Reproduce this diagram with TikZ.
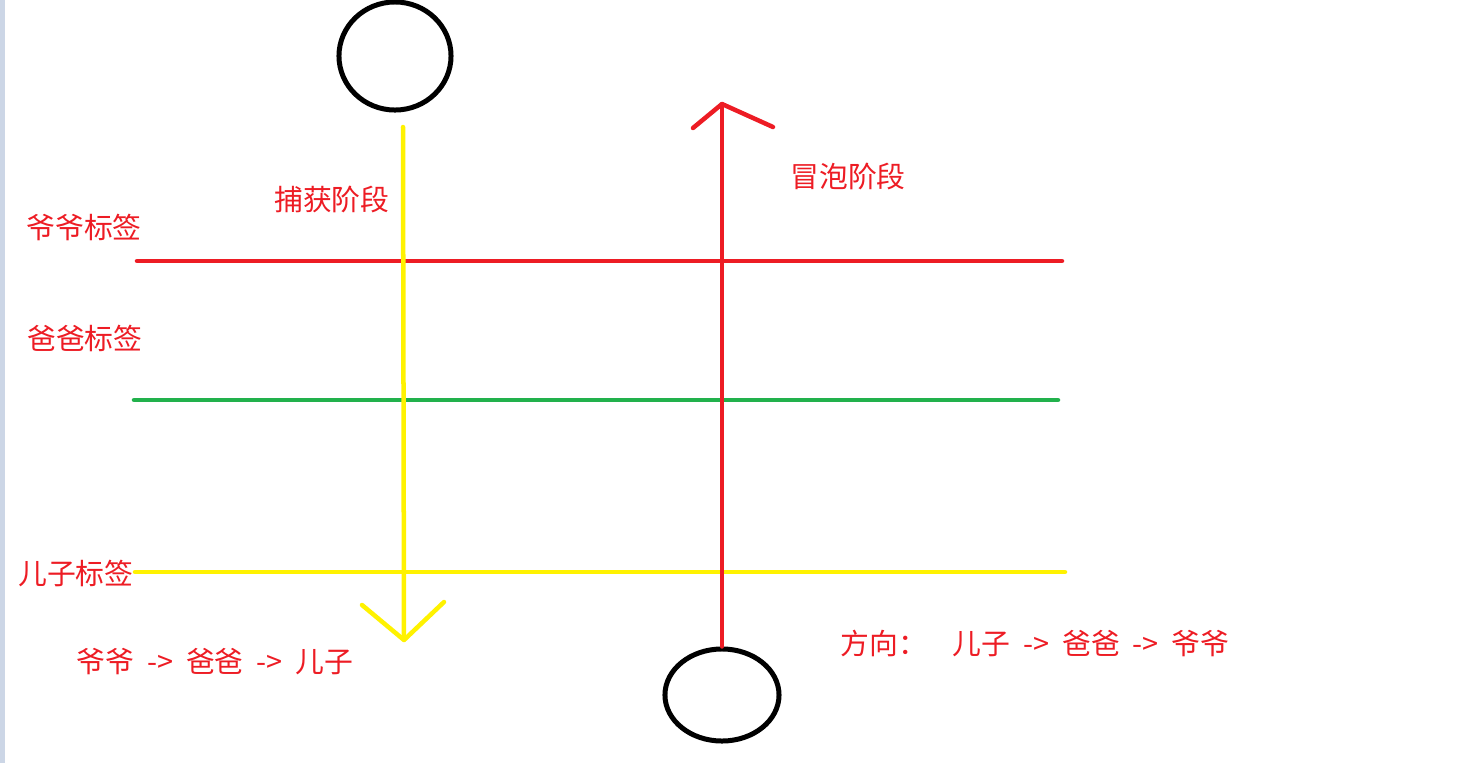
\documentclass[tikz,border=0pt]{standalone}
\usepackage{fontspec}
\newfontfamily\cjk[WordSpace=2]{Noto Sans CJK SC}
\usepackage{tikz}
\usetikzlibrary{shapes,positioning}
\definecolor{paintred}{HTML}{ED1C24}
\definecolor{paintgreen}{HTML}{22B14C}
\definecolor{paintyellow}{HTML}{FFF200}
\definecolor{edgestrip}{HTML}{CCD6E6}
\begin{document}
\begin{tikzpicture}[x=0.01cm, y=-0.01cm]
        % Define styles
        \tikzstyle{label} = [text=paintred, font=\cjk\fontsize{8.2}{10}\selectfont, inner sep=0pt]
        \tikzstyle{ball} = [ellipse, draw=black, line width=0.05cm, inner sep=0pt]
        \tikzstyle{level} = [line width=0.045cm, line cap=round]
        \tikzstyle{flow} = [line width=0.045cm, line cap=round, line join=round]

        \useasboundingbox (0,0) rectangle (1459,763);
        \fill [edgestrip] (0,0) rectangle (5,763);

        % Elements
        \node [ball, minimum width=1.12cm, minimum height=1.08cm] (top) at (395,56) {};
        \node [ball, minimum width=1.14cm, minimum height=0.92cm] (bottom) at (722,695) {};

        % Tag levels
        \draw [level, paintred] (137,261) -- (1062,261);
        \draw [level, paintgreen] (134,400) -- (1058,400);
        \draw [level, paintyellow] (135,572) -- (1065,572);

        % Capture phase
        \coordinate (capstart) at (403,127);
        \coordinate (capend) at (404,640);
        \draw [flow, paintyellow] (capstart) -- (capend);
        \draw [flow, paintyellow] (362,605) -- (capend) -- (444,602);

        % Bubble phase
        \coordinate (bubend) at (722,104);
        \draw [flow, paintred] (bottom.north) -- (bubend);
        \draw [flow, paintred] (693,128) -- (bubend) -- (773,127);

        % Labels
        \node [label] (grandpa) at (84,227) {爷爷标签};
        \node [label] (father) at (85,338) {爸爸标签};
        \node [label] (son) at (76,573) {儿子标签};
        \node [label] (capture) at (332,200) {捕获阶段};
        \node [label] (bubble) at (848,177) {冒泡阶段};
        \node [label] (capdir) at (215,662) {爷爷 -> 爸爸 -> 儿子};
        \node [label] (bubdir) at (1035,643) {方向：\ \ 儿子 -> 爸爸 -> 爷爷};
    \end{tikzpicture}
\end{document}
